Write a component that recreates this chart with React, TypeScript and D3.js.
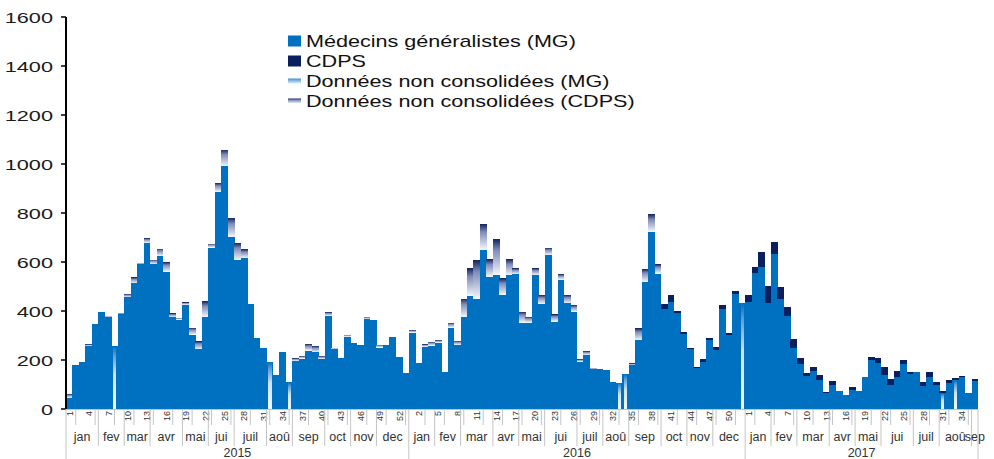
import React, { useRef, useEffect } from 'react';
import * as d3 from 'd3';

// tick labels
const years = ['2015', '2016', '2017'];
const weekCounts = [53, 52, 36];
const monthNames = ['jan', 'fev', 'mar', 'avr', 'mai', 'jui', 'juil', 'aoû', 'sep', 'oct', 'nov', 'dec'];
const monthWeeks2015 = [5, 4, 4, 5, 4, 4, 5, 4, 5, 4, 4, 5];
const monthWeeks2016 = [4, 4, 5, 4, 4, 5, 4, 4, 5, 4, 4, 5];
const monthWeeks2017 = [4, 4, 5, 4, 4, 5, 4, 5, 1];
const yTicks = [0, 200, 400, 600, 800, 1000, 1200, 1400, 1600];

// Médecins généralistes (MG), consolidated
const mg2015 = [45, 178, 191, 257, 347, 397, 376, 0, 386, 456, 513, 591, 678, 591, 624, 560, 374, 365, 425, 304, 243, 376, 659, 886, 991, 702, 607, 615, 428, 291, 247, 0, 139, 231, 0, 196, 206, 238, 231, 204, 380, 245, 209, 295, 268, 261, 367, 362, 251, 261, 295, 211, 148];
const mg2016 = [312, 186, 254, 259, 271, 152, 332, 261, 376, 462, 451, 651, 539, 547, 466, 545, 550, 353, 353, 546, 429, 628, 357, 528, 431, 397, 193, 220, 163, 162, 160, 111, 0, 0, 179, 281, 519, 723, 553, 408, 437, 393, 305, 244, 166, 193, 281, 240, 408, 303, 471, 0];
const mg2017 = [437, 556, 580, 431, 634, 451, 380, 251, 183, 134, 156, 118, 64, 100, 75, 57, 78, 75, 132, 202, 186, 139, 100, 132, 183, 143, 152, 94, 132, 97, 0, 105, 0, 130, 66, 116];

// CDPS, consolidated
const cdps2015 = new Array(53).fill(0);
const cdps2016 = [0, 0, 0, 0, 0, 0, 0, 0, 0, 0, 0, 0, 0, 0, 0, 0, 0, 0, 0, 0, 0, 0, 0, 0, 0, 0, 0, 0, 0, 0, 0, 0, 0, 0, 0, 0, 0, 0, 0, 20, 28, 7, 10, 6, 6, 11, 7, 14, 16, 6, 11, 0];
const cdps2017 = [28, 24, 61, 70, 48, 48, 35, 33, 24, 14, 14, 21, 7, 14, 0, 0, 10, 0, 0, 11, 21, 33, 22, 23, 17, 9, 0, 17, 20, 14, 11, 13, 10, 5, 0, 5];

// Données non consolidées (MG)
const ncMg2015 = [0, 0, 0, 0, 0, 0, 0, 258, 0, 0, 0, 0, 0, 0, 0, 0, 0, 0, 0, 0, 0, 0, 0, 0, 0, 0, 0, 0, 0, 0, 0, 193, 0, 0, 109, 0, 0, 0, 0, 0, 0, 0, 0, 0, 0, 0, 0, 0, 0, 0, 0, 0, 0];
const ncMg2016 = [0, 0, 0, 0, 0, 0, 0, 0, 0, 0, 0, 0, 0, 0, 0, 0, 0, 0, 0, 0, 0, 0, 0, 0, 0, 0, 0, 0, 0, 0, 0, 0, 107, 143, 0, 0, 0, 0, 0, 0, 0, 0, 0, 0, 0, 0, 0, 0, 0, 0, 0, 433];
const ncMg2017 = [0, 0, 0, 0, 0, 0, 0, 0, 0, 0, 0, 0, 0, 0, 0, 0, 0, 0, 0, 0, 0, 0, 0, 0, 0, 0, 0, 0, 0, 0, 64, 0, 118, 0, 0, 0];

// Données non consolidées (CDPS)
const ncCdps2015 = [16, 0, 0, 7, 0, 0, 4, 0, 6, 13, 24, 6, 19, 19, 31, 39, 16, 7, 10, 27, 33, 64, 16, 36, 68, 78, 71, 37, 0, 0, 0, 0, 0, 0, 0, 11, 10, 27, 26, 12, 15, 6, 0, 8, 0, 0, 9, 0, 11, 0, 0, 0, 0];
const ncCdps2016 = [10, 0, 10, 15, 10, 0, 20, 17, 75, 112, 156, 103, 72, 146, 67, 66, 24, 44, 23, 28, 36, 30, 29, 22, 34, 27, 10, 16, 5, 0, 0, 0, 0, 0, 7, 48, 52, 72, 37, 0, 0, 0, 0, 0, 0, 0, 0, 0, 0, 0, 0, 0];
const ncCdps2017 = new Array(36).fill(0);

const BLUE = '#0070c0';
const NAVY = '#0b1f5e';
const FONT = '"Liberation Sans", Arial, sans-serif';

export default function App() {
  const svgRef = useRef<SVGSVGElement>(null);

  useEffect(() => {
    const width = 994;
    const height = 459;
    const svg = d3.select(svgRef.current).attr('width', width).attr('height', height);
    svg.selectAll('*').remove();

    const mg = [...mg2015, ...mg2016, ...mg2017];
    const cdps = [...cdps2015, ...cdps2016, ...cdps2017];
    const ncMg = [...ncMg2015, ...ncMg2016, ...ncMg2017];
    const ncCdps = [...ncCdps2015, ...ncCdps2016, ...ncCdps2017];
    const n = mg.length;

    const weeks: { i: number; week: number }[] = [];
    weekCounts.forEach((c) => {
      for (let w = 1; w <= c; w++) weeks.push({ i: weeks.length, week: w });
    });

    const x = d3.scaleBand<number>().domain(d3.range(n)).range([66, 978]).padding(0);
    const y = d3.scaleLinear().domain([0, 1600]).range([409, 17]);
    const bw = x.bandwidth();

    // gradients
    const defs = svg.append('defs');
    const g1 = defs.append('linearGradient').attr('id', 'ncCdps').attr('x1', 0).attr('y1', 0).attr('x2', 0).attr('y2', 1);
    g1.append('stop').attr('offset', '0%').attr('stop-color', '#15255f');
    g1.append('stop').attr('offset', '30%').attr('stop-color', '#7d8bb8');
    g1.append('stop').attr('offset', '100%').attr('stop-color', '#f3f6fb');
    const g2 = defs.append('linearGradient').attr('id', 'ncMg').attr('x1', 0).attr('y1', 0).attr('x2', 0).attr('y2', 1);
    g2.append('stop').attr('offset', '0%').attr('stop-color', BLUE);
    g2.append('stop').attr('offset', '15%').attr('stop-color', '#5a9dd6');
    g2.append('stop').attr('offset', '45%').attr('stop-color', '#cfe2f3');
    g2.append('stop').attr('offset', '100%').attr('stop-color', '#f4f8fc');
    const g3 = defs.append('linearGradient').attr('id', 'ncMgLeg').attr('x1', 0).attr('y1', 0).attr('x2', 0).attr('y2', 1);
    g3.append('stop').attr('offset', '0%').attr('stop-color', '#3d8fd0');
    g3.append('stop').attr('offset', '100%').attr('stop-color', '#e3eef8');

    // bars
    const bars = svg.append('g').attr('shape-rendering', 'crispEdges');
    weeks.forEach(({ i }) => {
      const x0 = x(i)!;
      let base = 0;
      const seg = (v: number, fill: string) => {
        if (v <= 0) return;
        bars.append('rect')
          .attr('x', x0)
          .attr('y', y(base + v))
          .attr('width', bw + 0.4)
          .attr('height', y(base) - y(base + v))
          .attr('fill', fill);
        base += v;
      };
      seg(mg[i], BLUE);
      if (ncMg[i] > 0) {
        bars.append('rect')
          .attr('x', x0).attr('y', y(base + ncMg[i]))
          .attr('width', bw + 0.4).attr('height', y(base) - y(base + ncMg[i]))
          .attr('fill', BLUE);
        bars.append('rect')
          .attr('x', x0 + bw * 0.3).attr('y', y(base + ncMg[i]))
          .attr('width', bw * 0.5).attr('height', y(base) - y(base + ncMg[i]))
          .attr('fill', 'url(#ncMg)');
        base += ncMg[i];
      }
      seg(cdps[i], NAVY);
      seg(ncCdps[i], 'url(#ncCdps)');
    });

    // y axis
    const axis = svg.append('g');
    axis.append('line')
      .attr('x1', 66).attr('x2', 66).attr('y1', y(1600)).attr('y2', y(0))
      .attr('stroke', '#000').attr('stroke-width', 2);
    yTicks.forEach((t) => {
      axis.append('line')
        .attr('x1', 61).attr('x2', 66).attr('y1', y(t)).attr('y2', y(t))
        .attr('stroke', '#000').attr('stroke-width', 1.5);
      axis.append('text')
        .attr('transform', `translate(53,${y(t) + 1}) scale(1.55,1)`)
        .attr('text-anchor', 'end')
        .attr('dominant-baseline', 'central')
        .style('font-family', FONT)
        .style('font-size', '14px')
        .style('fill', '#1a1a1a')
        .text(t);
    });

    // x axis: weeks, months, years
    const xa = svg.append('g');
    const grey = '#c4c4c4';
    xa.append('line').attr('x1', 66).attr('x2', 978).attr('y1', 409.5).attr('y2', 409.5).attr('stroke', grey);
    weeks.forEach(({ i, week }) => {
      if (i % 3 === 1) {
        const cx = x(i)! + bw / 2;
        xa.append('line').attr('x1', cx).attr('x2', cx).attr('y1', 409).attr('y2', 425).attr('stroke', grey);
      }
      if (i % 3 === 0) {
        const cx = x(i)! + bw / 2;
        xa.append('text')
          .attr('transform', `translate(${cx + 0.5},411) rotate(-90)`)
          .attr('text-anchor', 'end')
          .attr('dominant-baseline', 'central')
          .style('font-family', FONT)
          .style('font-size', '9px')
          .style('fill', '#333')
          .text(week);
      }
    });

    const monthSets = [monthWeeks2015, monthWeeks2016, monthWeeks2017];
    let offset = 0;
    years.forEach((yr, k) => {
      let start = offset;
      monthSets[k].forEach((c, m) => {
        const x0 = x(start)!;
        const x1 = x(start + c - 1)! + bw;
        if (m > 0) {
          xa.append('line').attr('x1', x0).attr('x2', x0).attr('y1', 409).attr('y2', 446).attr('stroke', grey);
        }
        xa.append('text')
          .attr('x', (x0 + x1) / 2)
          .attr('y', 441)
          .attr('text-anchor', 'middle')
          .style('font-family', FONT)
          .style('font-size', '12.5px')
          .style('fill', '#333')
          .text(monthNames[m]);
        start += c;
      });
      const ys = x(offset)!;
      const ye = offset + weekCounts[k] < n ? x(offset + weekCounts[k])! : 978;
      xa.append('line').attr('x1', ys).attr('x2', ys).attr('y1', 409).attr('y2', 459).attr('stroke', grey);
      if (k === years.length - 1) {
        xa.append('line').attr('x1', ye).attr('x2', ye).attr('y1', 409).attr('y2', 459).attr('stroke', grey);
      }
      xa.append('text')
        .attr('x', (ys + ye) / 2)
        .attr('y', 457)
        .attr('text-anchor', 'middle')
        .style('font-family', FONT)
        .style('font-size', '12.5px')
        .style('fill', '#333')
        .text(yr);
      offset += weekCounts[k];
    });

    // legend
    const legendItems = [
      { label: 'Médecins généralistes (MG)', fill: BLUE, h: 11 },
      { label: 'CDPS', fill: NAVY, h: 11 },
      { label: 'Données non consolidées (MG)', fill: 'url(#ncMgLeg)', h: 5 },
      { label: 'Données non consolidées (CDPS)', fill: 'url(#ncCdps)', h: 5 },
    ];
    const legend = svg.append('g').attr('transform', 'translate(288,40)');
    legendItems.forEach((d, k) => {
      const row = legend.append('g').attr('transform', `translate(0,${k * 20})`);
      row.append('rect').attr('x', 0).attr('y', -d.h / 2 + 1).attr('width', 13).attr('height', d.h).attr('fill', d.fill);
      row.append('text')
        .attr('transform', 'translate(18,1) scale(1.27,1)')
        .attr('dominant-baseline', 'central')
        .style('font-family', FONT)
        .style('font-size', '17px')
        .style('fill', '#111')
        .text(d.label);
    });
  }, []);

  return (
    <div style={{ position: 'absolute', left: 0, top: 0, background: '#fff' }}>
      <svg ref={svgRef}></svg>
    </div>
  );
}
